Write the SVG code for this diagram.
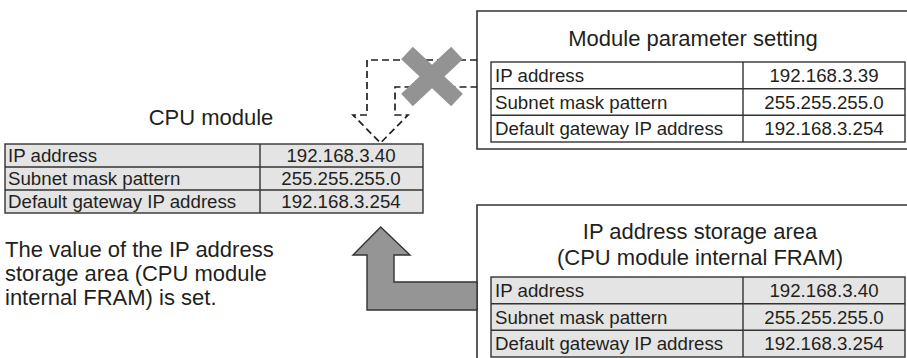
<svg xmlns="http://www.w3.org/2000/svg" width="907" height="358" viewBox="0 0 907 358">
<style>
  text { font-family: "Liberation Sans", Arial, sans-serif; fill: #231f20; }
  .title { font-size: 22px; text-anchor: middle; }
  .desc { font-size: 22px; }
  .cell { font-size: 18.7px; }
  .val { font-size: 18.7px; text-anchor: middle; }
  .box { fill: #ffffff; stroke: #333333; stroke-width: 1.6; }
  .tbl-gray { fill: #e4e4e4; stroke: #333333; stroke-width: 1.4; }
  .tbl-white { fill: #ffffff; stroke: #333333; stroke-width: 1.4; }
  .grid { stroke: #333333; stroke-width: 1.4; fill: none; }
  .dash { fill: none; stroke: #231f20; stroke-width: 1.7; stroke-dasharray: 7 4; }
  .xmark { stroke: #939393; stroke-width: 17; stroke-linecap: butt; }
  .solid-arrow { fill: #959595; stroke: #333333; stroke-width: 1.4; stroke-linejoin: miter; }
</style>

<g id="module-parameter-setting">
  <path class="box" d="M912,11 H477 V149 H912"/>
  <text class="title" x="693" y="46">Module parameter setting</text>
  <rect class="tbl-white" x="491" y="62" width="414" height="80"/>
  <path class="grid" d="M491,88.7 H905 M491,115.3 H905 M743,62 V142"/>
  <text class="cell" x="495" y="82">IP address</text>
  <text class="cell" x="495" y="108.5">Subnet mask pattern</text>
  <text class="cell" x="495" y="135">Default gateway IP address</text>
  <text class="val" x="824" y="82">192.168.3.39</text>
  <text class="val" x="824" y="108.5">255.255.255.0</text>
  <text class="val" x="824" y="135">192.168.3.254</text>
</g>

<g id="cpu-module">
  <text class="title" x="211" y="125">CPU module</text>
  <rect class="tbl-gray" x="5" y="144" width="418" height="69"/>
  <path class="grid" d="M5,167 H423 M5,190 H423 M260,144 V213"/>
  <text class="cell" x="8" y="162">IP address</text>
  <text class="cell" x="8" y="185">Subnet mask pattern</text>
  <text class="cell" x="8" y="208">Default gateway IP address</text>
  <text class="val" x="341" y="162">192.168.3.40</text>
  <text class="val" x="341" y="185">255.255.255.0</text>
  <text class="val" x="341" y="208">192.168.3.254</text>
</g>

<g id="description">
  <text class="desc" x="5" y="257">The value of the IP address</text>
  <text class="desc" x="5" y="281">storage area (CPU module</text>
  <text class="desc" x="5" y="305">internal FRAM) is set.</text>
</g>

<g id="ip-address-storage-area">
  <path class="box" d="M912,205 H477 V362"/>
  <text class="title" x="700" y="239">IP address storage area</text>
  <text class="title" x="700" y="265">(CPU module internal FRAM)</text>
  <rect class="tbl-gray" x="491" y="277" width="414" height="80"/>
  <path class="grid" d="M491,303.7 H905 M491,330.3 H905 M743,277 V357"/>
  <text class="cell" x="495" y="297">IP address</text>
  <text class="cell" x="495" y="323.5">Subnet mask pattern</text>
  <text class="cell" x="495" y="350">Default gateway IP address</text>
  <text class="val" x="824" y="297">192.168.3.40</text>
  <text class="val" x="824" y="323.5">255.255.255.0</text>
  <text class="val" x="824" y="350">192.168.3.254</text>
</g>

<g id="connectors">
  <path class="dash" d="M477,60 H367 V115 H353 L380.5,143 L408,115 H395 V87 H477"/>
  <g id="x-mark">
    <line class="xmark" x1="407" y1="53" x2="457" y2="100"/>
    <line class="xmark" x1="457" y1="53" x2="407" y2="100"/>
  </g>
  <path class="solid-arrow" d="M380.7,227 L410,255 H394 V282 H477 V310 H367 V255 H353 Z"/>
</g>
</svg>
